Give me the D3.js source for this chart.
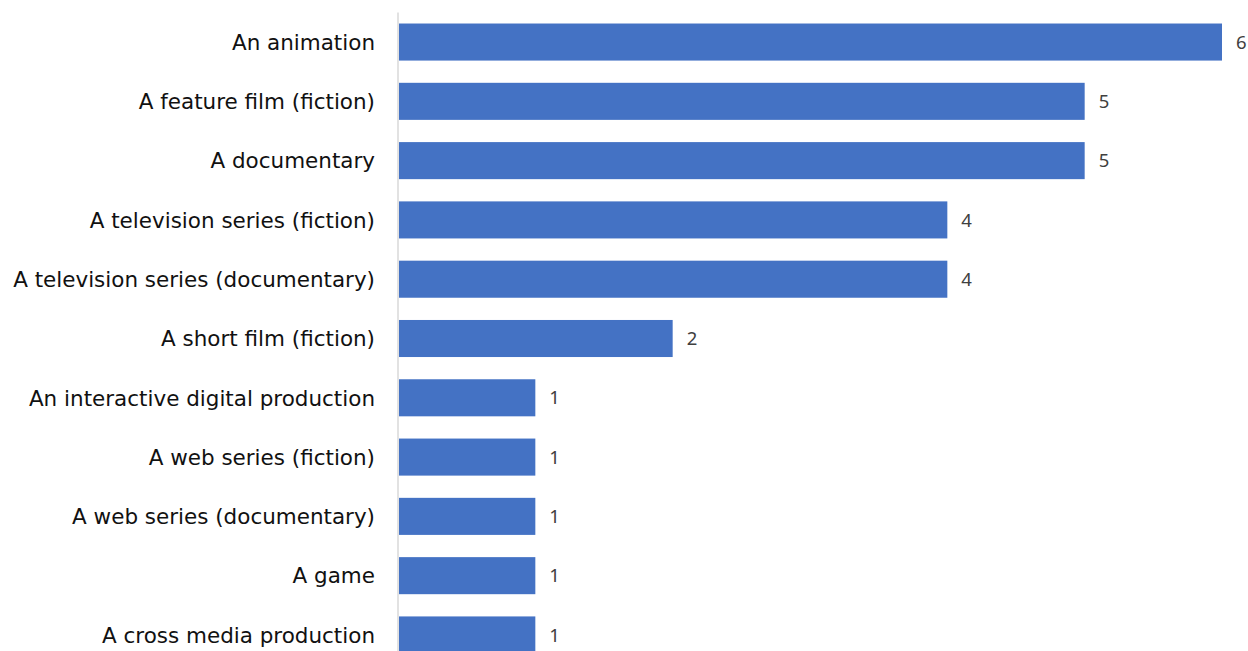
<!DOCTYPE html>
<html><head><meta charset="utf-8">
<script src="https://cdn.jsdelivr.net/npm/d3@7"></script>
<style>body{margin:0;background:#fff;overflow:hidden}</style>
</head><body>
<svg id="c" width="1248" height="651"></svg>
<script>
const categories = ["An animation","A feature film (fiction)","A documentary","A television series (fiction)","A television series (documentary)","A short film (fiction)","An interactive digital production","A web series (fiction)","A web series (documentary)","A game","A cross media production"];
const values = [6,5,5,4,4,2,1,1,1,1,1];

const svg = d3.select("#c");
const pLeft = 398, pRight = 1222, pTop = 12.4, pBottom = 664.6;
const x = d3.scaleLinear().domain([0,6]).range([pLeft,pRight]);
const y = d3.scaleBand().domain(categories).range([pTop,pBottom]).paddingInner(0.375).paddingOuter(0.1875);

svg.append("line").attr("x1",pLeft).attr("x2",pLeft).attr("y1",pTop).attr("y2",651)
  .attr("stroke","#d9d9d9").attr("stroke-width",1.5);

svg.selectAll("rect.bar").data(values).join("rect").attr("class","bar")
  .attr("x",x(0)+1).attr("y",(d,i)=>y(categories[i]))
  .attr("width",d=>x(d)-x(0)-1).attr("height",y.bandwidth()).attr("fill","#4472C4");

const cats = svg.selectAll("text.cat").data(categories).join("text").attr("class","cat")
  .attr("x",pLeft-23).attr("y",d=>y(d)+y.bandwidth()/2).attr("dy","0.36em")
  .attr("text-anchor","end").attr("font-family","DejaVu Sans, sans-serif").attr("font-size",20)
  .attr("fill","#111").text(d=>d);
// fit font size so the longest label matches the reference width
let maxW = 0; cats.each(function(){ maxW = Math.max(maxW, this.getComputedTextLength()); });
cats.attr("font-size", 20*362/maxW);

svg.selectAll("text.val").data(values).join("text").attr("class","val")
  .attr("x",d=>x(d)+14).attr("y",(d,i)=>y(categories[i])+y.bandwidth()/2).attr("dy","0.36em")
  .attr("font-family","Noto Sans, sans-serif").attr("font-size",18.5)
  .attr("fill","#404040").text(d=>d);
</script>
</body></html>
